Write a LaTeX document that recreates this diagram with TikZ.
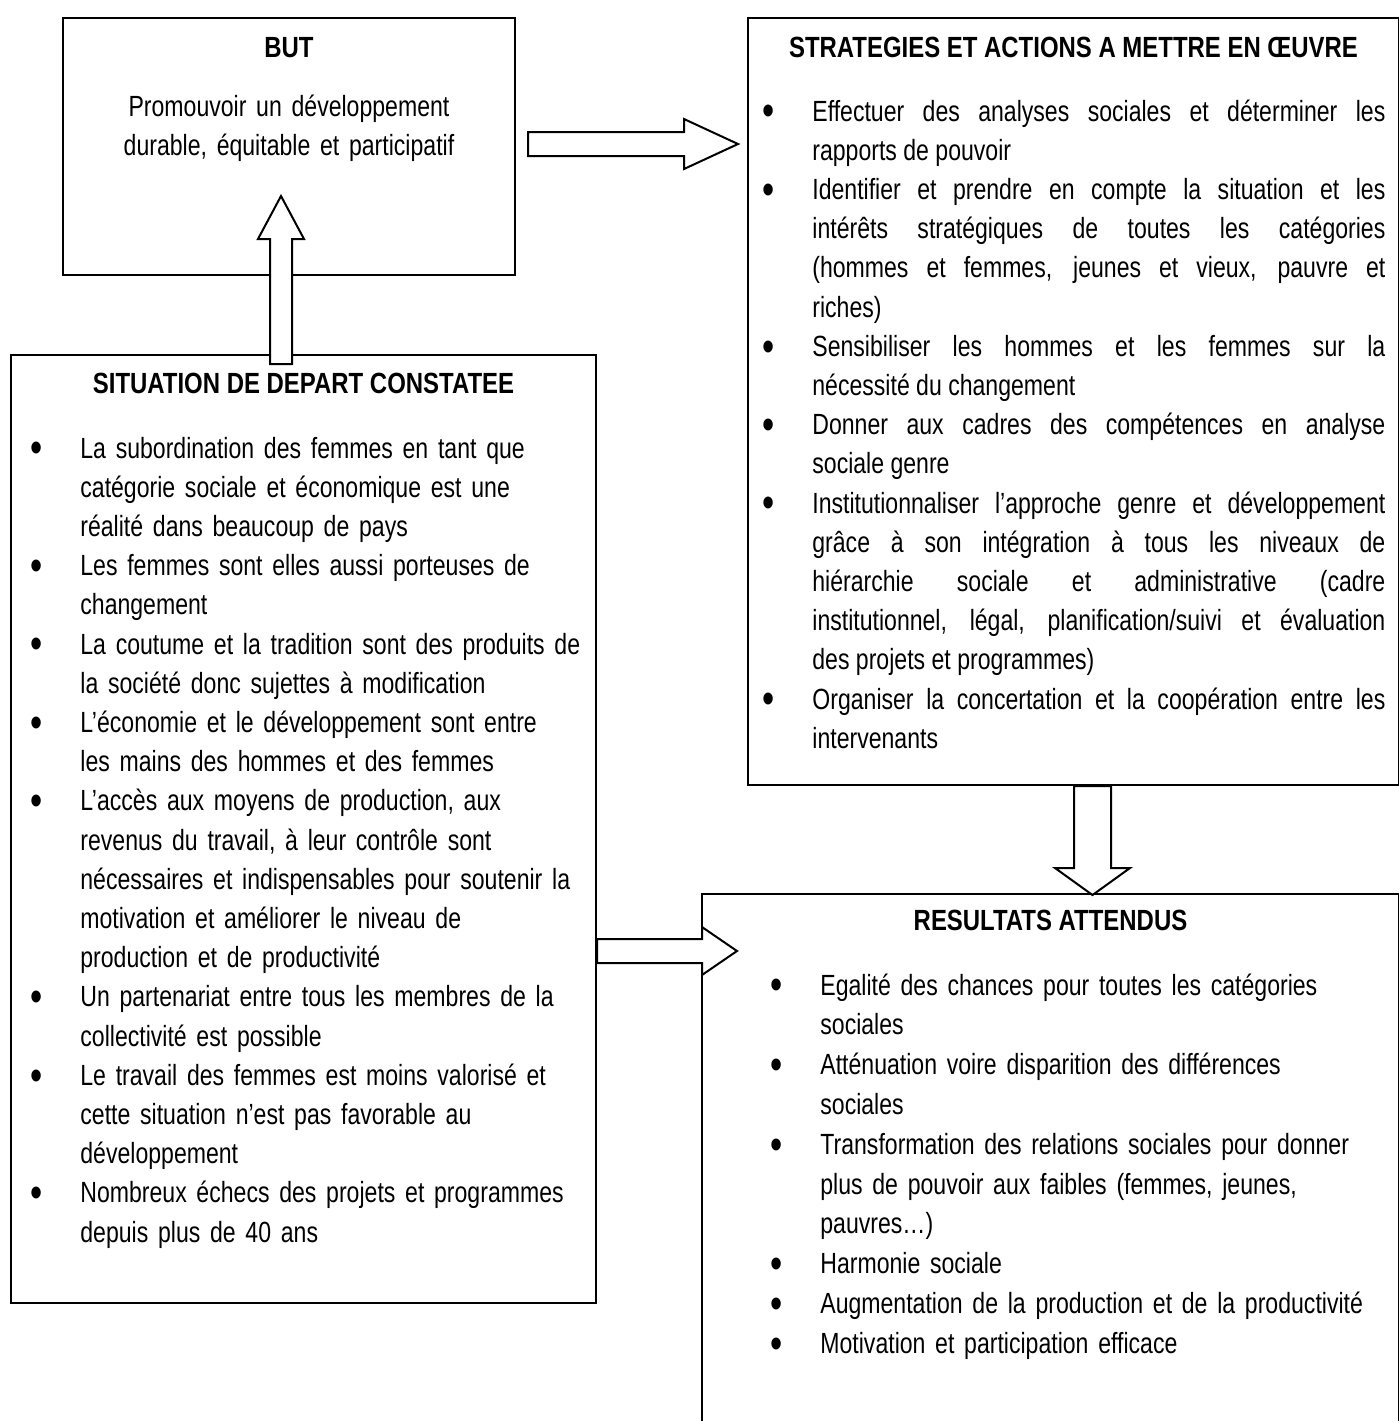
\documentclass[tikz,border=0pt]{standalone}
\usepackage{fontspec}
\setmainfont{Liberation Sans}[UprightFeatures={FakeStretch=0.79},BoldFeatures={FakeStretch=0.82}]
\usetikzlibrary{calc}
\setlength{\parindent}{0pt}
\newcommand\taille{\fontsize{14.6}{19.6}\selectfont}
\newcommand\puce[1]{\ifvmode\noindent\fi\hangindent=25pt\hangafter=1%
  \makebox[25pt][l]{\raisebox{-0.17em}{\scalebox{1.5}{\textbullet}}}#1\par}
\tikzset{
  % cadres
  cadre/.style={draw,line width=1pt,inner sep=0pt,anchor=north west},
  titre/.style={anchor=base,inner sep=0pt,font=\taille\bfseries},
  corps/.style={anchor=base west,inner sep=0pt},
  % flèches creuses
  fleche/.style={draw,fill=white,line width=1pt,line join=miter},
}
\begin{document}
\begin{tikzpicture}[x=0.5pt,y=-0.5pt,font=\taille]
  \useasboundingbox (0,0) rectangle (1399,1421);
  \node[cadre,minimum width=226pt,minimum height=128.5pt] (but) at (62,17) {};
  \node[cadre,minimum width=325.5pt,minimum height=383.5pt] (strat) at (747,17) {};
  \node[cadre,minimum width=292.5pt,minimum height=474pt] (sit) at (10,354) {};
  \node[cadre,minimum width=348.5pt,minimum height=268.5pt] (res) at (701,893) {};

  \node[titre] (t-but) at ($(but.north)+(0,40)$) {BUT};
  \node[anchor=base,inner sep=0pt,text width=226pt,align=center] (c-but)
    at ($(but.north)+(0,99)$)
    {Promouvoir un développement\\durable, équitable et participatif};

  \node[titre] (t-strat) at ($(strat.north)+(0,40)$) {STRATEGIES ET ACTIONS A METTRE EN ŒUVRE};
  \node[corps,text width=311.5pt,align=justify] (c-strat) at ($(strat.north west)+(15,104)$) {%
    \puce{Effectuer des analyses sociales et déterminer les\break rapports de pouvoir}
    \puce{Identifier et prendre en compte la situation et les\break intérêts stratégiques de toutes les catégories\break (hommes et femmes, jeunes et vieux, pauvre et\break riches)}
    \puce{Sensibiliser les hommes et les femmes sur la\break nécessité du changement}
    \puce{Donner aux cadres des compétences en analyse\break sociale genre}
    \puce{Institutionnaliser l’approche genre et développement\break grâce à son intégration à tous les niveaux de\break hiérarchie sociale et administrative (cadre\break institutionnel, légal, planification/suivi et évaluation\break des projets et programmes)}
    \puce{Organiser la concertation et la coopération entre les\break intervenants}};

  \node[titre] (t-sit) at ($(sit.north)+(0,39)$) {SITUATION DE DEPART CONSTATEE};
  \node[corps,text width=285pt,align=left] (c-sit) at ($(sit.north west)+(20,104)$) {%
    \puce{La subordination des femmes en tant que\newline catégorie sociale et économique est une\newline réalité dans beaucoup de pays}
    \puce{Les femmes sont elles aussi porteuses de\newline changement}
    \puce{La coutume et la tradition sont des produits de\newline la société donc sujettes à modification}
    \puce{L’économie et le développement sont entre\newline les mains des hommes et des femmes}
    \puce{L’accès aux moyens de production, aux\newline revenus du travail, à leur contrôle sont\newline nécessaires et indispensables pour soutenir la\newline motivation et améliorer le niveau de\newline production et de productivité}
    \puce{Un partenariat entre tous les membres de la\newline collectivité est possible}
    \puce{Le travail des femmes est moins valorisé et\newline cette situation n’est pas favorable au\newline développement}
    \puce{Nombreux échecs des projets et programmes\newline depuis plus de 40 ans}};

  \node[titre] (t-res) at ($(res.north)+(0,37)$) {RESULTATS ATTENDUS};
  \node[corps,text width=310pt,align=left,font=\fontsize{14.6}{19.9}\selectfont] (c-res)
    at ($(res.north west)+(69,102)$) {%
    \puce{Egalité des chances pour toutes les catégories\newline sociales}
    \puce{Atténuation voire disparition des différences\newline sociales}
    \puce{Transformation des relations sociales pour donner\newline plus de pouvoir aux faibles (femmes, jeunes,\newline pauvres…)}
    \puce{Harmonie sociale}
    \puce{Augmentation de la production et de la productivité}
    \puce{Motivation et participation efficace}};

  % flèches
  \draw[fleche] ($(but.north east)+(12,115)$) -- ++(156,0) -- ++(0,-13) -- ++(54,25)
    -- ++(-54,25) -- ++(0,-13) -- ++(-156,0) -- cycle;
  \draw[fleche] ($(sit.north west)+(260,10)$) -- ++(0,-125) -- ++(-12,0) -- ++(23,-43)
    -- ++(23,43) -- ++(-12,0) -- ++(0,125) -- cycle;
  \draw[fleche] ($(strat.south west)+(327,0)$) -- ++(0,82) -- ++(-19,0) -- ++(37.5,27)
    -- ++(37.5,-27) -- ++(-19,0) -- ++(0,-82) -- cycle;
  \draw[fleche] ($(sit.north east)+(0,585)$) -- ++(105,0) -- ++(0,-12) -- ++(35,24)
    -- ++(-35,24) -- ++(0,-12) -- ++(-105,0) -- cycle;
\end{tikzpicture}
\end{document}
